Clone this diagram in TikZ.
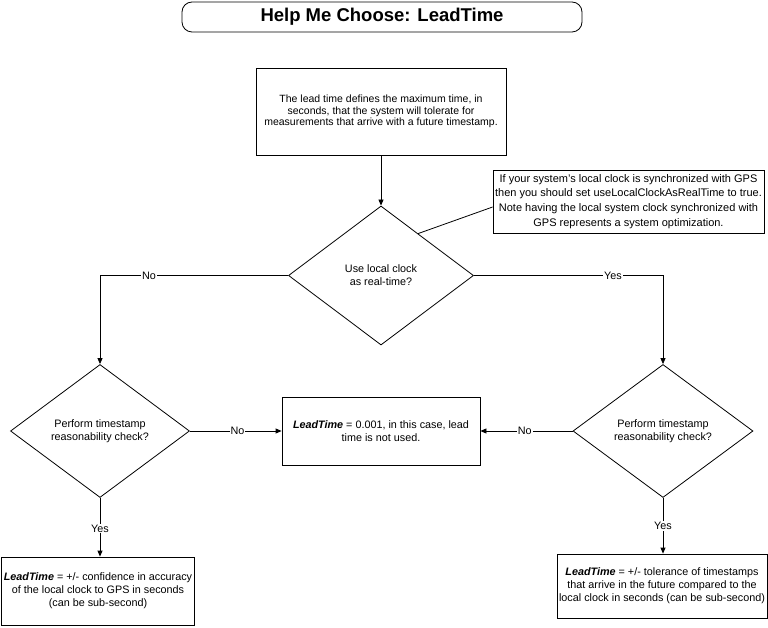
\documentclass[tikz,border=0pt]{standalone}
\usepackage{fontspec}
\setmainfont{Liberation Sans}
\usetikzlibrary{shapes.geometric,arrows.meta,calc}
\begin{document}
\begin{tikzpicture}[x=1pt,y=-1pt,
  every node/.style={font=\fontsize{10.8}{13}\selectfont},
  boxnode/.style={draw,line width=0.8pt,align=center,inner sep=2pt},
  decision/.style={draw,diamond,line width=0.8pt,align=center,inner sep=0pt},
  lbl/.style={fill=white,inner sep=1pt},
  conn/.style={line width=0.8pt},
  arr/.style={conn,-{Triangle[length=6pt,width=5pt]}}]
\useasboundingbox (0,0) rectangle (768,628);
\node[draw,line width=0.8pt,rounded corners=10pt,minimum width=400pt,minimum height=30pt,
  font=\bfseries\fontsize{18.5}{21}\selectfont] (title) at (382,17) {Help Me Choose: LeadTime};
\node[boxnode,minimum width=250pt,minimum height=87pt,font=\fontsize{10.5}{11.7}\selectfont] (top) at (381,111.5)
  {The lead time defines the maximum time, in\\seconds, that the system will tolerate for\\measurements that arrive with a future timestamp.};
\node[boxnode,minimum width=271pt,minimum height=63pt,font=\fontsize{11}{14.8}\selectfont] (note) at (628.5,201.5)
  {If your system's local clock is synchronized with GPS\\then you should set useLocalClockAsRealTime to true.\\Note having the local system clock synchronized with\\GPS represents a system optimization.};
\node[decision,minimum width=185pt,minimum height=139pt] (d1) at (381,275.5)
  {Use local clock\\as real-time?};
\node[decision,minimum width=179pt,minimum height=133pt] (ld) at (100,431)
  {Perform timestamp\\reasonability check?};
\node[decision,minimum width=180pt,minimum height=133pt] (rd) at (663,431)
  {Perform timestamp\\reasonability check?};
\node[boxnode,minimum width=198pt,minimum height=68pt] (mid) at (381,431)
  {\textbf{\textit{LeadTime}} = 0.001, in this case, lead\\time is not used.};
\node[boxnode,minimum width=192pt,minimum height=68pt] (lb) at (98,591)
  {\textbf{\textit{LeadTime}} = +/- confidence in accuracy\\of the local clock to GPS in seconds\\(can be sub-second)};
\node[boxnode,minimum width=208pt,minimum height=64pt] (rb) at (662,586)
  {\textbf{\textit{LeadTime}} = +/- tolerance of timestamps\\that arrive in the future compared to the\\local clock in seconds (can be sub-second)};
\coordinate (nt) at ($(d1.north)!0.4!(d1.east)$);
\coordinate (nw) at (note.west |- 0,207);
\draw[arr] (top.south) -- (d1.north);
\draw[conn] (nw) -- (nt);
\draw[arr] (d1.west) -- node[lbl,pos=0.74]{No} (d1.west -| ld.north) -- (ld.north);
\draw[arr] (d1.east) -- node[lbl,pos=0.735]{Yes} (d1.east -| rd.north) -- (rd.north);
\draw[arr] (ld.east) -- node[lbl,pos=0.52]{No} (ld.east -| mid.west);
\draw[arr] (rd.west) -- node[lbl,pos=0.52]{No} (rd.west -| mid.east);
\draw[arr] (ld.south) -- node[lbl,pos=0.52]{Yes} (ld.south |- lb.north);
\draw[arr] (rd.south) -- node[lbl,pos=0.5]{Yes} (rd.south |- rb.north);
\end{tikzpicture}
\end{document}
